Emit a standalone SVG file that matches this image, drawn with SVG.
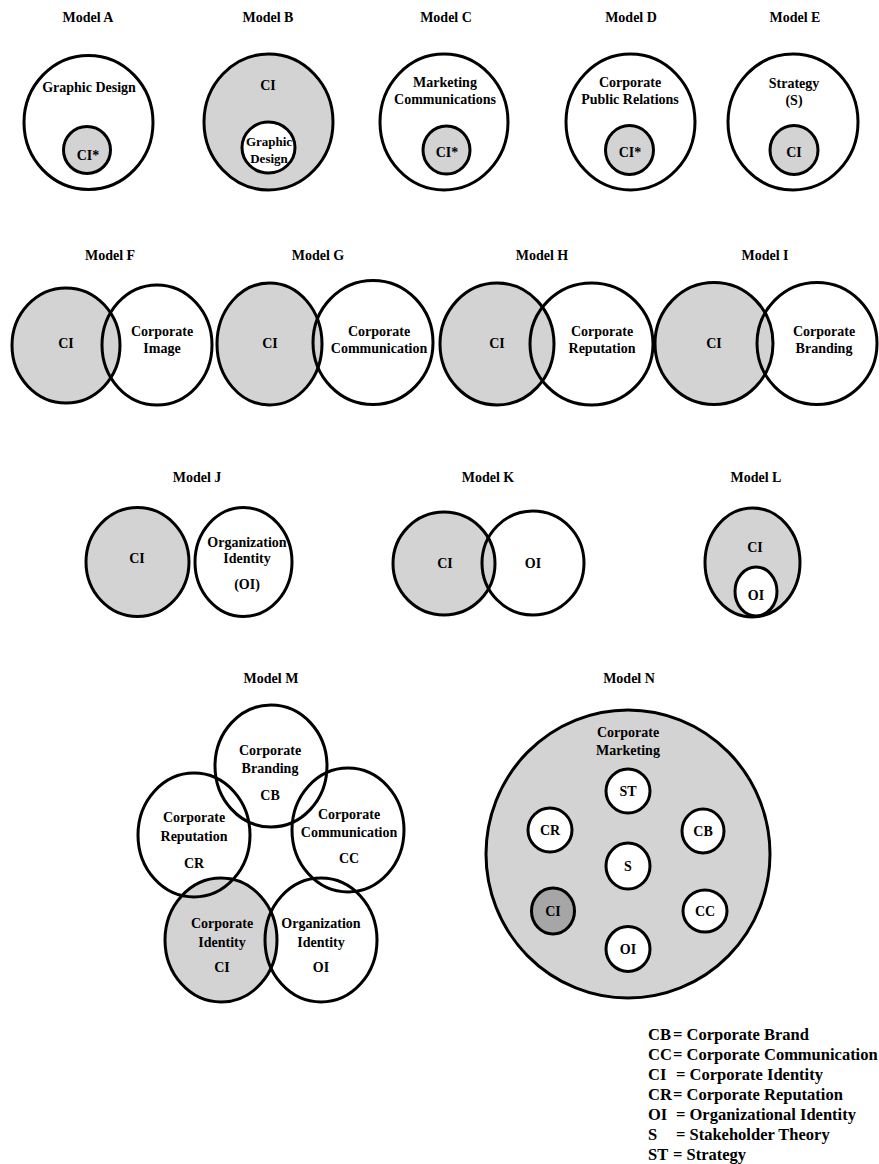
<svg xmlns="http://www.w3.org/2000/svg" width="879" height="1164" viewBox="0 0 879 1164" font-family="'Liberation Serif', 'DejaVu Serif', 'Times New Roman', serif">
<style>
text { font-family: "Liberation Serif", "DejaVu Serif", "Times New Roman", serif; font-weight: bold; font-size: 14px; text-anchor: middle; fill: #000; }
.ttl { font-size: 14px; }
.sm { font-size: 13px; }
.lg { font-size: 16.5px; text-anchor: start; }
ellipse { stroke: #000; stroke-width: 3; }
.g { fill: #d3d3d3; }
.w { fill: #fff; }
.n { fill: none; }
.d { fill: #a6a6a6; }
</style>
<rect width="879" height="1164" fill="#fff"/>
<g id="connectors"/>

<!-- Row 1 -->
<g id="modelA">
  <text class="ttl" x="88" y="22">Model A</text>
  <g id="A-graphic"><ellipse class="w" cx="88.5" cy="122.5" rx="64.5" ry="67"/><text x="89" y="92">Graphic Design</text></g>
  <g id="A-ci"><ellipse class="g" cx="87" cy="150" rx="23.5" ry="23.5"/><text x="88" y="160">CI*</text></g>
</g>
<g id="modelB">
  <text class="ttl" x="268" y="22">Model B</text>
  <g id="B-ci"><ellipse class="g" cx="268.5" cy="122" rx="64.5" ry="68"/><text x="268" y="90">CI</text></g>
  <g id="B-graphic"><ellipse class="w" cx="268.5" cy="147.5" rx="26.5" ry="25.5"/><text class="sm" x="269" y="146">Graphic</text><text class="sm" x="269" y="163">Design</text></g>
</g>
<g id="modelC">
  <text class="ttl" x="446" y="22">Model C</text>
  <g id="C-mc"><ellipse class="w" cx="444" cy="122" rx="64" ry="68"/><text x="445" y="87">Marketing</text><text x="445" y="104">Communications</text></g>
  <g id="C-ci"><ellipse class="g" cx="446.5" cy="150" rx="23.5" ry="24"/><text x="447" y="157">CI*</text></g>
</g>
<g id="modelD">
  <text class="ttl" x="631" y="22">Model D</text>
  <g id="D-cpr"><ellipse class="w" cx="630.5" cy="122" rx="64.5" ry="68"/><text x="630" y="87">Corporate</text><text x="630" y="104">Public Relations</text></g>
  <g id="D-ci"><ellipse class="g" cx="629.5" cy="150" rx="24" ry="24.5"/><text x="630" y="157">CI*</text></g>
</g>
<g id="modelE">
  <text class="ttl" x="795" y="22">Model E</text>
  <g id="E-s"><ellipse class="w" cx="793" cy="122" rx="65" ry="68"/><text x="794" y="88">Strategy</text><text x="794" y="105">(S)</text></g>
  <g id="E-ci"><ellipse class="g" cx="794" cy="150" rx="24" ry="24.5"/><text x="794" y="157">CI</text></g>
</g>

<!-- Row 2 -->
<g id="modelF">
  <text class="ttl" x="110" y="260">Model F</text>
  <g id="F-ci"><ellipse class="g" cx="66" cy="345.5" rx="54" ry="57.5"/><text x="66" y="348">CI</text></g>
  <g id="F-img"><ellipse class="n" cx="157" cy="345" rx="55" ry="60"/><text x="162" y="336">Corporate</text><text x="162" y="353">Image</text></g>
</g>
<g id="modelG">
  <text class="ttl" x="318" y="260">Model G</text>
  <g id="G-ci"><ellipse class="g" cx="269.5" cy="344" rx="52.5" ry="61"/><text x="270" y="348">CI</text></g>
  <g id="G-cc"><ellipse class="n" cx="373" cy="342.5" rx="60" ry="62"/><text x="379" y="336">Corporate</text><text x="379" y="353">Communication</text></g>
</g>
<g id="modelH">
  <text class="ttl" x="542" y="260">Model H</text>
  <g id="H-ci"><ellipse class="g" cx="497" cy="344" rx="57" ry="61"/><text x="497" y="348">CI</text></g>
  <g id="H-cr"><ellipse class="n" cx="591.5" cy="344" rx="61.5" ry="61"/><text x="602" y="336">Corporate</text><text x="602" y="353">Reputation</text></g>
</g>
<g id="modelI">
  <text class="ttl" x="765" y="260">Model I</text>
  <g id="I-ci"><ellipse class="g" cx="714" cy="343.5" rx="59" ry="61"/><text x="714" y="348">CI</text></g>
  <g id="I-cb"><ellipse class="n" cx="817" cy="343.5" rx="60" ry="61"/><text x="824" y="336">Corporate</text><text x="824" y="353">Branding</text></g>
</g>

<!-- Row 3 -->
<g id="modelJ">
  <text class="ttl" x="197" y="482">Model J</text>
  <g id="J-ci"><ellipse class="g" cx="137.5" cy="562" rx="51.5" ry="54.5"/><text x="137" y="563">CI</text></g>
  <g id="J-oi"><ellipse class="n" cx="243.5" cy="562" rx="48.5" ry="54.5"/><text x="247" y="547">Organization</text><text x="247" y="563">Identity</text><text x="247" y="589">(OI)</text></g>
</g>
<g id="modelK">
  <text class="ttl" x="488" y="482">Model K</text>
  <g id="K-ci"><ellipse class="g" cx="444" cy="563.5" rx="51" ry="51.5"/><text x="445" y="568">CI</text></g>
  <g id="K-oi"><ellipse class="n" cx="533" cy="563" rx="51" ry="52"/><text x="533" y="568">OI</text></g>
</g>
<g id="modelL">
  <text class="ttl" x="756" y="482">Model L</text>
  <g id="L-ci"><ellipse class="g" cx="752.5" cy="562.5" rx="47.5" ry="54.5"/><text x="755" y="552">CI</text></g>
  <g id="L-oi"><ellipse class="w" cx="756" cy="591.5" rx="21" ry="24.5"/><text x="756" y="600">OI</text></g>
</g>

<!-- Row 4 -->
<g id="modelM">
  <text class="ttl" x="271" y="683">Model M</text>
  <g id="M-ci"><ellipse class="g" cx="221" cy="940" rx="56" ry="62"/><text x="222" y="928">Corporate</text><text x="222" y="947">Identity</text><text x="222" y="972">CI</text></g>
  <g id="M-cb"><ellipse class="n" cx="271" cy="766" rx="56" ry="61"/><text x="270" y="755">Corporate</text><text x="270" y="773">Branding</text><text x="270" y="800">CB</text></g>
  <g id="M-cr"><ellipse class="n" cx="194" cy="835" rx="56" ry="62"/><text x="194" y="822">Corporate</text><text x="194" y="841">Reputation</text><text x="194" y="868">CR</text></g>
  <g id="M-cc"><ellipse class="n" cx="348" cy="830" rx="56" ry="62"/><text x="349" y="819">Corporate</text><text x="349" y="837">Communication</text><text x="349" y="863">CC</text></g>
  <g id="M-oi"><ellipse class="n" cx="321" cy="940" rx="56" ry="62"/><text x="321" y="928">Organization</text><text x="321" y="947">Identity</text><text x="321" y="972">OI</text></g>
</g>
<g id="modelN">
  <text class="ttl" x="629" y="683">Model N</text>
  <g id="N-cm"><ellipse class="g" cx="628" cy="854" rx="142" ry="144"/><text x="628" y="737">Corporate</text><text x="628" y="755">Marketing</text></g>
  <g id="N-st"><ellipse class="w" cx="628" cy="791" rx="22" ry="22"/><text x="628" y="796">ST</text></g>
  <g id="N-cr"><ellipse class="w" cx="550" cy="830" rx="22" ry="22"/><text x="550" y="835">CR</text></g>
  <g id="N-cb"><ellipse class="w" cx="703" cy="831" rx="21" ry="22"/><text x="703" y="836">CB</text></g>
  <g id="N-s"><ellipse class="w" cx="628" cy="866" rx="22" ry="23"/><text x="628" y="871">S</text></g>
  <g id="N-ci"><ellipse class="d" cx="553" cy="911" rx="21.5" ry="23"/><text x="553" y="916">CI</text></g>
  <g id="N-cc"><ellipse class="w" cx="705" cy="911" rx="22" ry="21"/><text x="705" y="916">CC</text></g>
  <g id="N-oi"><ellipse class="w" cx="628" cy="949" rx="22" ry="22.5"/><text x="628" y="954">OI</text></g>
</g>

<!-- Legend -->
<g id="legend">
  <text class="lg" x="648" y="1040">CB</text><text class="lg" x="673" y="1040">= Corporate Brand</text>
  <text class="lg" x="648" y="1060">CC</text><text class="lg" x="673" y="1060">= Corporate Communication</text>
  <text class="lg" x="648" y="1080">CI</text><text class="lg" x="676" y="1080">= Corporate Identity</text>
  <text class="lg" x="648" y="1100">CR</text><text class="lg" x="673" y="1100">= Corporate Reputation</text>
  <text class="lg" x="648" y="1120">OI</text><text class="lg" x="676" y="1120">= Organizational Identity</text>
  <text class="lg" x="648" y="1140">S</text><text class="lg" x="676" y="1140">= Stakeholder Theory</text>
  <text class="lg" x="648" y="1160">ST</text><text class="lg" x="673" y="1160">= Strategy</text>
</g>
</svg>
